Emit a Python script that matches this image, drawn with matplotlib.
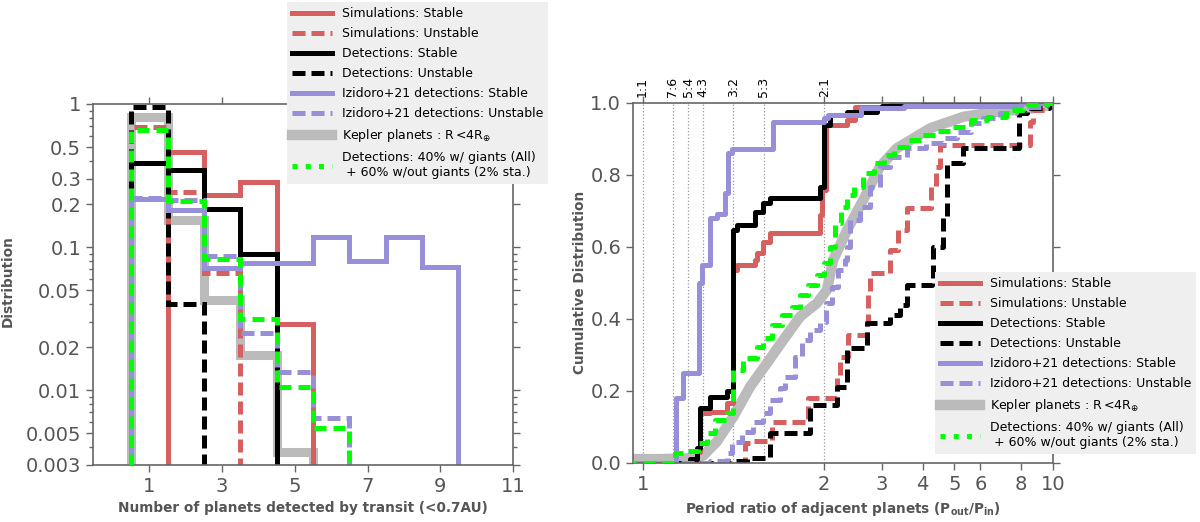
import numpy as np
import matplotlib.pyplot as plt
import matplotlib.transforms as mtransforms
from matplotlib.lines import Line2D
from matplotlib.ticker import FixedLocator, FixedFormatter, NullLocator, NullFormatter, LogLocator

plt.rcParams['font.family'] = ['DejaVu Sans']

RED = '#d65f5f'
PURPLE = '#978fd8'
GRAY = '#bbbbbb'
GREEN = '#00ff00'
AXC = '#666666'
TXC = '#555555'

labels = ['Simulations: Stable', 'Simulations: Unstable',
          'Detections: Stable', 'Detections: Unstable',
          'Izidoro+21 detections: Stable', 'Izidoro+21 detections: Unstable',
          r'Kepler planets : R$\,$<4R$_{\oplus}$',
          'Detections: 40% w/ giants (All)\n + 60% w/out giants (2% sta.)']

# ---- left panel: number of planets detected by transit ----
n_planets = np.arange(1, 11)
h_sim_st = [0, 0.46, 0.23, 0.287, 0.029, 0, 0, 0, 0, 0]
h_sim_un = [0.695, 0.244, 0.066, 0, 0, 0, 0, 0, 0, 0]
h_det_st = [0.385, 0.346, 0.184, 0.09, 0, 0, 0, 0, 0, 0]
h_det_un = [0.96, 0.04, 0, 0, 0, 0, 0, 0, 0, 0]
h_iz_st = [0.217, 0.182, 0.071, 0.078, 0.078, 0.118, 0.08, 0.118, 0.072, 0]
h_iz_un = [0.22, 0.215, 0.087, 0.025, 0.0133, 0.0064, 0, 0, 0, 0]
h_kepler = [0.81, 0.155, 0.043, 0.0176, 0.0037, 0, 0, 0, 0, 0]
h_mix = [0.658, 0.21, 0.083, 0.0315, 0.0105, 0.0054, 0, 0, 0, 0]

# ---- right panel: cumulative period ratio distributions (step points) ----
pr_sim_st = [0.9, 1.30, 1.316, 1.371, 1.463, 1.50, 1.518, 1.62, 1.629, 1.665, 1.70, 1.977, 1.99, 2.03, 2.35, 2.48, 3.2, 10.5]
cdf_sim_st = [0.0, 0.03, 0.137, 0.14, 0.165, 0.535, 0.549, 0.563, 0.582, 0.614, 0.637, 0.688, 0.757, 0.938, 0.952, 0.989, 1.0, 1.0]

pr_sim_un = [0.9, 1.564, 1.60, 1.711, 1.913, 2.19, 2.24, 2.37, 2.70, 2.73, 2.76, 3.17, 3.36, 3.58, 4.24, 4.39, 4.53, 8.52, 8.7, 9.5, 10.5]
cdf_sim_un = [0.0, 0.054, 0.059, 0.114, 0.179, 0.239, 0.294, 0.355, 0.392, 0.475, 0.526, 0.59, 0.646, 0.707, 0.767, 0.822, 0.883, 0.947, 0.98, 1.0, 1.0]

pr_det_st = [0.9, 1.263, 1.298, 1.316, 1.371, 1.463, 1.50, 1.518, 1.62, 1.665, 1.70, 1.977, 2.0, 2.085, 2.35, 2.9, 3.0, 4.0, 10.5]
cdf_det_st = [0.0, 0.01, 0.04, 0.151, 0.183, 0.20, 0.646, 0.66, 0.697, 0.72, 0.734, 0.767, 0.938, 0.966, 0.975, 0.985, 0.99, 1.0, 1.0]

pr_det_un = [0.9, 1.44, 1.574, 1.70, 1.92, 2.19, 2.35, 2.70, 3.17, 3.4, 3.58, 4.27, 4.3, 4.62, 4.75, 5.3, 7.9, 8.3, 9.7, 10.5]
cdf_det_un = [0.0, 0.005, 0.012, 0.082, 0.16, 0.211, 0.318, 0.387, 0.41, 0.438, 0.494, 0.507, 0.60, 0.683, 0.832, 0.873, 0.97, 0.985, 1.0, 1.0]

pr_iz_st = [0.9, 1.184, 1.224, 1.31, 1.325, 1.372, 1.408, 1.454, 1.472, 1.49, 1.72, 2.0, 2.05, 2.6, 3.5, 8.0, 10.5]
cdf_iz_st = [0.0, 0.18, 0.25, 0.50, 0.55, 0.68, 0.69, 0.75, 0.86, 0.87, 0.945, 0.957, 0.966, 0.985, 0.99, 1.0, 1.0]

pr_iz_un = [0.9, 1.37, 1.463, 1.49, 1.546, 1.61, 1.665, 1.70, 1.757, 1.785, 1.84, 1.876, 1.923, 1.977, 2.03, 2.11, 2.21, 2.32, 2.35, 2.4, 2.58, 2.76, 2.96, 3.17, 3.58, 4.1, 4.63, 5.1, 5.6, 6.1, 6.9, 7.7, 9.6, 10.5]
cdf_iz_un = [0.0, 0.005, 0.026, 0.058, 0.086, 0.114, 0.137, 0.174, 0.207, 0.239, 0.294, 0.341, 0.369, 0.392, 0.443, 0.489, 0.535, 0.5625, 0.60, 0.674, 0.711, 0.767, 0.822, 0.85, 0.873, 0.887, 0.901, 0.919, 0.943, 0.957, 0.97, 0.989, 1.0, 1.0]

pr_kepler = [0.9, 1.1, 1.25, 1.298, 1.334, 1.408, 1.5, 1.592, 1.684, 1.775, 1.868, 1.96, 2.04, 2.13, 2.35, 2.63, 2.96, 3.33, 4.22, 5.33, 6.76, 8.6, 10.0]
cdf_kepler = [0.01, 0.01, 0.012, 0.015, 0.02, 0.058, 0.128, 0.211, 0.276, 0.341, 0.406, 0.443, 0.48, 0.5625, 0.646, 0.729, 0.822, 0.873, 0.929, 0.961, 0.975, 0.984, 0.994]

pr_mix = [0.9, 1.178, 1.243, 1.307, 1.353, 1.40, 1.463, 1.50, 1.555, 1.629, 1.665, 1.711, 1.767, 1.822, 1.868, 1.913, 1.96, 1.997, 2.085, 2.16, 2.25, 2.35, 2.46, 2.63, 2.83, 3.04, 3.26, 3.58, 3.97, 4.45, 4.9, 5.6, 6.3, 7.2, 8.1, 9.5, 10.5]
cdf_mix = [0.0, 0.026, 0.033, 0.054, 0.082, 0.119, 0.137, 0.258, 0.29, 0.322, 0.345, 0.382, 0.41, 0.433, 0.466, 0.494, 0.521, 0.554, 0.60, 0.665, 0.711, 0.744, 0.767, 0.804, 0.832, 0.855, 0.878, 0.896, 0.91, 0.922, 0.933, 0.952, 0.961, 0.98, 0.994, 1.0, 1.0]

resonances = [1, 7/6, 5/4, 4/3, 3/2, 5/3, 2]
res_labels = ['1:1', '7:6', '5:4', '4:3', '3:2', '5:3', '2:1']

DASH = (0, (2.6, 1.2))
GDASH = (0, (2.4, 1.4))
LW = 3.6
styles = [dict(color=RED, ls='-', lw=LW, zorder=2),
          dict(color=RED, ls=DASH, lw=LW, zorder=2),
          dict(color='k', ls='-', lw=LW, zorder=2),
          dict(color='k', ls=DASH, lw=LW, zorder=2),
          dict(color=PURPLE, ls='-', lw=LW, zorder=2),
          dict(color=PURPLE, ls=DASH, lw=LW, zorder=2),
          dict(color=GRAY, ls='-', lw=6.5, zorder=1),
          dict(color=GREEN, ls=GDASH, lw=LW, zorder=3)]

# legend handles (green shown as square dots in the legend)
handles = []
for st in styles:
    ls = ':' if st['color'] == GREEN else st['ls']
    lw = 7.5 if st['color'] == GRAY else st['lw']
    handles.append(Line2D([], [], color=st['color'], ls=ls, lw=lw))


def style_axes(ax):
    for s in ax.spines.values():
        s.set_color(AXC)
        s.set_linewidth(1.2)
    ax.tick_params(which='both', direction='out', top=True, right=True,
                   color=AXC, labelcolor=TXC, labelsize=14, width=1.0)
    ax.tick_params(which='major', length=5)
    ax.tick_params(which='minor', length=3)


def add_legend(ax, anchor):
    ax.legend(handles, labels, loc='upper left', bbox_to_anchor=anchor,
              bbox_transform=fig.transFigure, borderaxespad=0, fontsize=9,
              frameon=True, fancybox=False, facecolor='#efefef', edgecolor='none',
              framealpha=1, handlelength=3.2, labelspacing=0.56)


fig = plt.figure(figsize=(12, 5.22), dpi=100)

# left panel
ax1 = fig.add_axes([0.0775, 0.1092, 0.35, 0.6916])
edges = np.append(n_planets - 0.5, n_planets[-1] + 0.5)
hists = [h_sim_st, h_sim_un, h_det_st, h_det_un, h_iz_st, h_iz_un, h_kepler, h_mix]
for h, st in zip(hists, styles):
    vals = np.array(h, float)
    vals = np.where(vals > 0, vals, 1e-6)
    ax1.stairs(vals, edges, baseline=1e-6, **st)
ax1.set_yscale('log')
ax1.set_xlim(-0.55, 11)
ax1.set_ylim(0.003, 1)
yt = [0.003, 0.005, 0.01, 0.02, 0.05, 0.1, 0.2, 0.3, 0.5, 1]
ax1.yaxis.set_major_locator(FixedLocator(yt))
ax1.yaxis.set_major_formatter(FixedFormatter(['0.003', '0.005', '0.01', '0.02', '0.05',
                                              '0.1', '0.2', '0.3', '0.5', '1']))
ax1.yaxis.set_minor_locator(LogLocator(base=10, subs=np.arange(2, 10)))
ax1.yaxis.set_minor_formatter(NullFormatter())
ax1.set_xticks([1, 3, 5, 7, 9, 11])
ax1.xaxis.set_minor_locator(NullLocator())
style_axes(ax1)
ax1.set_ylabel('Distribution', fontsize=9.8, fontweight='bold', color=TXC)
ax1.yaxis.set_label_coords(-0.186, 0.51)
ax1.set_xlabel('Number of planets detected by transit (<0.7AU)', fontsize=9.8,
               fontweight='bold', color=TXC)
ax1.xaxis.set_label_coords(0.5, -0.1)
add_legend(ax1, (0.239, 0.996))

# right panel: linear between 1 and 2, logarithmic above 2
K = 181.3 / 327.0


def fwd(x):
    x = np.asarray(x, float)
    return np.where(x <= 2, (x - 1) * K, K + np.log10(np.clip(x, 1e-9, None) / 2))


def inv(y):
    y = np.asarray(y, float)
    return np.where(y <= K, 1 + y / K, 2 * 10 ** np.clip(y - K, -50, 50))


ax2 = fig.add_axes([0.5275, 0.1136, 0.35, 0.6897])
ax2.set_xscale('function', functions=(fwd, inv))
curves = [(pr_sim_st, cdf_sim_st), (pr_sim_un, cdf_sim_un), (pr_det_st, cdf_det_st),
          (pr_det_un, cdf_det_un), (pr_iz_st, cdf_iz_st), (pr_iz_un, cdf_iz_un),
          (pr_kepler, cdf_kepler), (pr_mix, cdf_mix)]
for (px, cy), st in zip(curves, styles):
    if st['color'] == GRAY:
        ax2.plot(px, cy, solid_capstyle='butt', **dict(st, lw=7.5))
    else:
        ax2.step(px, cy, where='post', **st)

trans = mtransforms.blended_transform_factory(ax2.transData, ax2.transAxes)
for r, t in zip(resonances, res_labels):
    ax2.axvline(r, color='#999999', ls=':', lw=0.9, zorder=0)
    ax2.text(r, 1.015, t, transform=trans, rotation=90, ha='center', va='bottom', fontsize=9)

ax2.set_xlim(0.947, 10)
ax2.set_ylim(0, 1)
ax2.set_xticks([1, 2, 3, 4, 5, 6, 8, 10])
ax2.set_xticklabels(['1', '2', '3', '4', '5', '6', '8', '10'])
ax2.xaxis.set_minor_locator(NullLocator())
ax2.set_yticks([0, 0.2, 0.4, 0.6, 0.8, 1.0])
ax2.set_yticklabels(['0.0', '0.2', '0.4', '0.6', '0.8', '1.0'])
style_axes(ax2)
ax2.set_ylabel('Cumulative Distribution', fontsize=9.8, fontweight='bold', color=TXC)
ax2.yaxis.set_label_coords(-0.11, 0.5)
ax2.set_xlabel(r'Period ratio of adjacent planets (P$_{\mathbf{out}}$/P$_{\mathbf{in}}$)',
               fontsize=9.8, fontweight='bold', color=TXC)
ax2.xaxis.set_label_coords(0.5, -0.104)
add_legend(ax2, (0.779, 0.479))

fig.savefig('out.png', dpi=100)
